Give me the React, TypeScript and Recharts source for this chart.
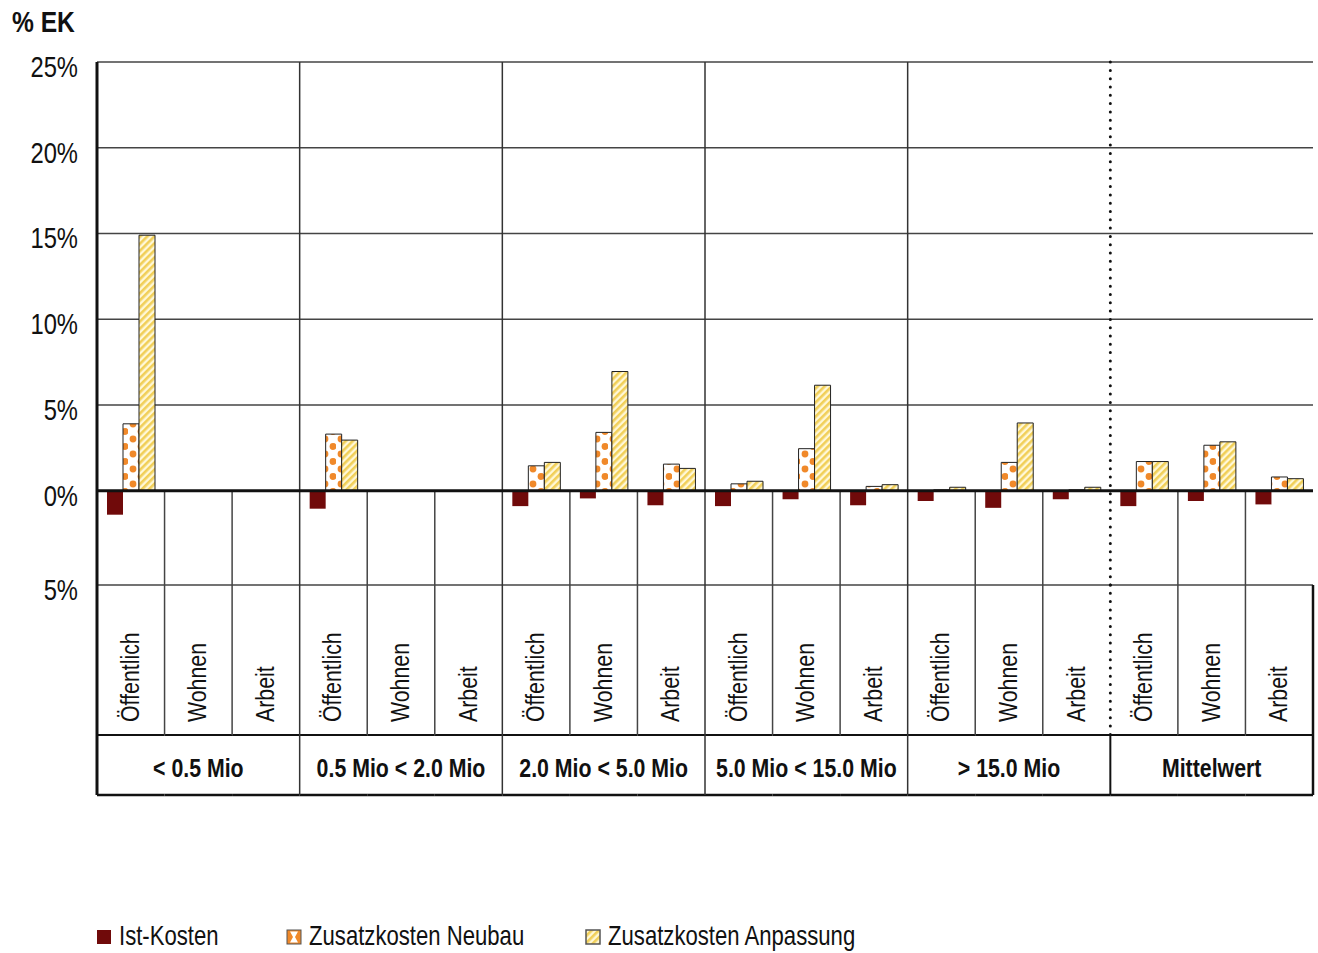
import React from 'react';
import {
  BarChart, Bar, XAxis, YAxis, CartesianGrid, ReferenceLine,
} from 'recharts';

const FONT = "'Liberation Sans', Arial, sans-serif";
// schmal laufende Schrift: Arial-Metrik horizontal gestaucht
const SQUEEZE = 0.82;

// Gemeindegrössen-Klassen und Nutzungsarten
const GROUPS = ['< 0.5 Mio', '0.5 Mio < 2.0 Mio', '2.0 Mio < 5.0 Mio', '5.0 Mio < 15.0 Mio', '> 15.0 Mio', 'Mittelwert'];
const USES = ['Öffentlich', 'Wohnen', 'Arbeit'];

// Werte in % EK, je Klasse: Öffentlich, Wohnen, Arbeit
const IST       = [-1.4, null, null, -1.05, null, null, -0.9, -0.45, -0.85, -0.9, -0.5, -0.85, -0.6, -1.0, -0.5, -0.9, -0.6, -0.8];
const NEUBAU    = [3.9,  null, null, 3.3,   null, null, 1.45, 3.4,   1.55,  0.4,  2.45, 0.25,  0.05, 1.65, 0.05, 1.7,  2.65, 0.8];
const ANPASSUNG = [14.9, null, null, 2.95,  null, null, 1.65, 6.95,  1.3,   0.55, 6.15, 0.35,  0.2,  3.95, 0.2,  1.7,  2.85, 0.7];

const Y_TICKS = [-5.5, 0, 5, 10, 15, 20, 25];

const KEYS = GROUPS.flatMap((_, gi) => USES.map(u => `${gi}|${u}`));
const data = KEYS.map((key, i) => ({
  key,
  use: USES[i % 3],
  ist: IST[i],
  neubau: NEUBAU[i],
  anpassung: ANPASSUNG[i],
}));

const W = 1318;
const H = 953;
const Y_AXIS_W = 97;
const MARGIN = { top: 62, right: 5, left: 0, bottom: 158 };
const X_AXIS_H = 210;
const BAND = (W - Y_AXIS_W - MARGIN.left - MARGIN.right) / KEYS.length;
const MEAN_IDX = 15;

function NText({ x, y, size, bold, anchor = 'start', rotate = false, children }: any) {
  return (
    <text
      transform={`translate(${x},${y})${rotate ? ' rotate(-90)' : ''} scale(${SQUEEZE},1)`}
      textAnchor={anchor} fontSize={size} fontWeight={bold ? 'bold' : 'normal'}
      fontFamily={FONT} fill="#111">
      {children}
    </text>
  );
}

function YTick({ x, y, payload }: any) {
  const v = payload.value as number;
  return <NText x={x} y={y + 15} size={29} anchor="end">{v < 0 ? '5%' : `${v}%`}</NText>;
}

// Kategorien-Tabelle unter dem Diagramm: gedrehte Nutzungsart + Klassenzeile
function XTick({ x, y, payload }: any) {
  const i = KEYS.indexOf(payload.value);
  const left = x - BAND / 2;
  const right = x + BAND / 2;
  const first = i % 3 === 0;
  return (
    <g>
      <line x1={left} x2={right} y1={y + 150} y2={y + 150} stroke="#111" strokeWidth={2} />
      <line x1={left} x2={right} y1={y + 210} y2={y + 210} stroke="#111" strokeWidth={2.5} />
      {!first && <line x1={left} x2={left} y1={y} y2={y + 150} stroke="#444" strokeWidth={1.5} />}
      {first && i > 0 && i !== MEAN_IDX && (
        <line x1={left} x2={left} y1={y} y2={y + 210} stroke="#333" strokeWidth={1.5} />
      )}
      {i === MEAN_IDX && (
        <>
          <line x1={left} x2={left} y1={y} y2={y + 150} stroke="#111" strokeWidth={3}
            strokeDasharray="0 8.3" strokeLinecap="round" />
          <line x1={left} x2={left} y1={y + 150} y2={y + 210} stroke="#111" strokeWidth={2} />
        </>
      )}
      {i === 0 && <line x1={left} x2={left} y1={y} y2={y + 210} stroke="#111" strokeWidth={3} />}
      {i === KEYS.length - 1 && (
        <line x1={right} x2={right} y1={y} y2={y + 210} stroke="#111" strokeWidth={2.5} />
      )}
      <NText x={x + 8} y={y + 137} size={26} rotate>{USES[i % 3]}</NText>
      {first && (
        <NText x={x + BAND} y={y + 192} size={26} bold anchor="middle">{GROUPS[i / 3]}</NText>
      )}
    </g>
  );
}

function Swatch({ kind, x, y }: { kind: string; x: number; y: number }) {
  if (kind === 'ist') return <rect x={x} y={y} width={14} height={14} fill="#700A0A" />;
  if (kind === 'neubau') {
    return (
      <g>
        <rect x={x} y={y} width={14} height={14} fill="#F0892A" stroke="#555" strokeWidth={1} />
        <polygon
          points={`${x + 3},${y + 1.5} ${x + 11},${y + 1.5} ${x + 8},${y + 7} ${x + 11},${y + 12.5} ${x + 3},${y + 12.5} ${x + 6},${y + 7}`}
          fill="#fff" />
      </g>
    );
  }
  return <rect x={x} y={y} width={14} height={14} fill="url(#stripes)" stroke="#555" strokeWidth={1.5} />;
}

const LEGEND = [
  { kind: 'ist', label: 'Ist-Kosten', x: 97 },
  { kind: 'neubau', label: 'Zusatzkosten Neubau', x: 287 },
  { kind: 'anpassung', label: 'Zusatzkosten Anpassung', x: 586 },
];

export default function App() {
  const categoryLines = KEYS.filter((_, i) => i % 3 !== 0);
  const groupLines = KEYS.filter((_, i) => i % 3 === 0 && i > 0);

  return (
    <div style={{ position: 'absolute', left: 0, top: 0, width: W, height: H, background: '#fff' }}>
      <BarChart width={W} height={H} data={data} margin={MARGIN} barGap={0} barSize={16}>
        <defs>
          <pattern id="dots" patternUnits="userSpaceOnUse" width={16} height={15}>
            <rect width={16} height={15} fill="#fff" />
            <circle cx={5} cy={4} r={3.4} fill="#F0892A" />
            <circle cx={13} cy={11.5} r={3.4} fill="#F0892A" />
          </pattern>
          <pattern id="stripes" patternUnits="userSpaceOnUse" width={5} height={5}
            patternTransform="rotate(45)">
            <rect width={5} height={5} fill="#FFF8D8" />
            <rect width={2.6} height={5} fill="#F1CF58" />
          </pattern>
        </defs>
        <CartesianGrid vertical={false} stroke="#444" strokeWidth={1.5} />
        <XAxis dataKey="key" interval={0} height={X_AXIS_H} axisLine={false} tickLine={false}
          tickSize={0} tickMargin={0} tick={(p: any) => <XTick {...p} />} />
        <YAxis width={Y_AXIS_W} domain={[-5.5, 25]} ticks={Y_TICKS} allowDataOverflow
          axisLine={{ stroke: '#111', strokeWidth: 3 }} tickLine={false} tickSize={0}
          tickMargin={19} tick={(p: any) => <YTick {...p} />} />
        {categoryLines.map(k => (
          <ReferenceLine key={`c-${k}`} segment={[{ x: k, y: 0 }, { x: k, y: -5.5 }]}
            position="start" stroke="#444" strokeWidth={1.5} />
        ))}
        {groupLines.map(k => (
          KEYS.indexOf(k) === MEAN_IDX
            ? <ReferenceLine key={`g-${k}`} x={k} position="start" stroke="#111" strokeWidth={3}
                strokeDasharray="0 8.3" strokeLinecap="round" />
            : <ReferenceLine key={`g-${k}`} x={k} position="start" stroke="#333" strokeWidth={1.5} />
        ))}
        <ReferenceLine x={KEYS[KEYS.length - 1]} position="end" stroke="#111" strokeWidth={2.5} />
        <Bar dataKey="ist" fill="#700A0A" isAnimationActive={false} />
        <Bar dataKey="neubau" fill="url(#dots)" stroke="#222" strokeWidth={1} isAnimationActive={false} />
        <Bar dataKey="anpassung" fill="url(#stripes)" stroke="#222" strokeWidth={1} isAnimationActive={false} />
        <ReferenceLine y={0} stroke="#111" strokeWidth={3} />
      </BarChart>
      <svg width={W} height={H} style={{ position: 'absolute', left: 0, top: 0, pointerEvents: 'none' }}>
        <NText x={12} y={32} size={30} bold>% EK</NText>
        {LEGEND.map(l => (
          <g key={l.kind}>
            <Swatch kind={l.kind} x={l.x} y={930} />
            <NText x={l.x + 22} y={945} size={27}>{l.label}</NText>
          </g>
        ))}
      </svg>
    </div>
  );
}
